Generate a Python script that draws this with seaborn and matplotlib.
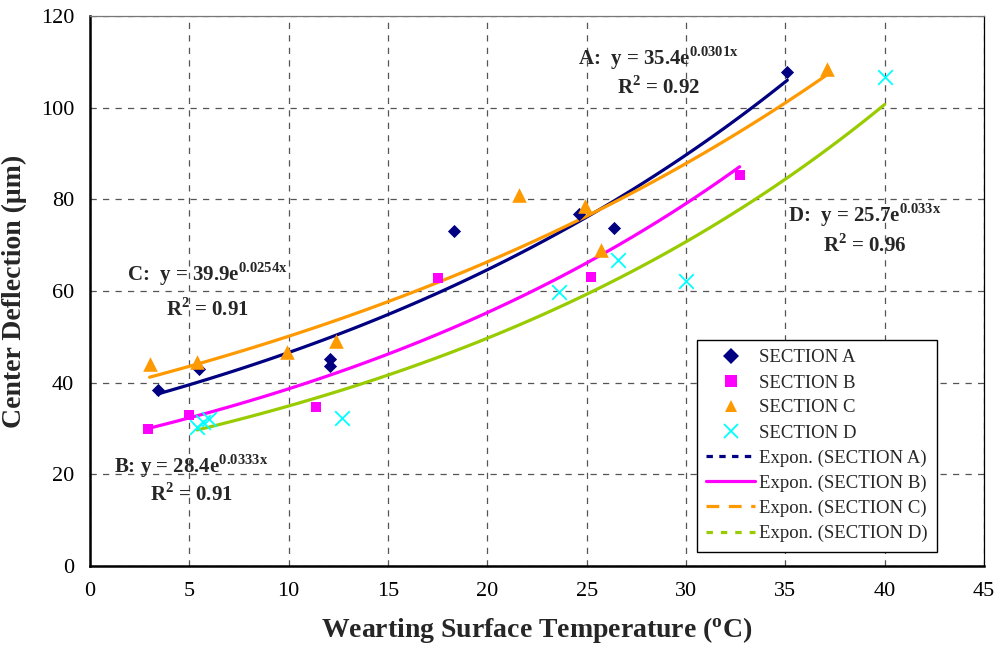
import matplotlib
matplotlib.use("Agg")
import matplotlib.pyplot as plt
from matplotlib.lines import Line2D
import seaborn as sns
import pandas as pd
import numpy as np

sec_a_x = [3.4, 5.5, 12.1, 12.1, 18.3, 24.6, 26.4, 35.1]
sec_a_y = [38.5, 43.0, 45.2, 43.6, 73.1, 76.8, 73.8, 107.8]
sec_b_x = [2.9, 5.0, 11.4, 17.5, 25.2, 32.7]
sec_b_y = [29.9, 33.0, 34.7, 62.8, 63.0, 85.3]
sec_c_x = [3.0, 5.4, 9.9, 12.4, 21.6, 24.9, 25.7, 37.1]
sec_c_y = [44.0, 44.5, 46.7, 49.2, 81.0, 78.6, 69.0, 108.5]
sec_d_x = [5.4, 5.7, 6.0, 12.7, 23.6, 26.6, 30.0, 40.0]
sec_d_y = [30.4, 31.4, 32.0, 32.3, 59.8, 66.8, 62.2, 106.7]

sections = ['SECTION A', 'SECTION B', 'SECTION C', 'SECTION D']
point_colors = {'SECTION A': '#000080', 'SECTION B': '#FF00FF',
                'SECTION C': '#FF9900', 'SECTION D': '#00FFFF'}
line_colors = {'SECTION A': '#000080', 'SECTION B': '#FF00FF',
               'SECTION C': '#FF9900', 'SECTION D': '#99CC00'}
markers = {'SECTION A': 'D', 'SECTION B': 's', 'SECTION C': '^', 'SECTION D': 'x'}
sizes = {'SECTION A': 45, 'SECTION B': 45, 'SECTION C': 110, 'SECTION D': 110}
legend_dashes = {'SECTION A': (2, 2), 'SECTION B': (None, None),
                 'SECTION C': (4, 3), 'SECTION D': (2, 2.5)}

equations = [
    ('A:  y = 35.4e', '0.0301x', '0.92', 28.6, 110.8, 104.3),
    ('B: y = 28.4e', '0.0333x', '0.91', 5.1, 21.8, 15.5),
    ('C:  y = 39.9e', '0.0254x', '0.91', 5.9, 63.7, 55.9),
    ('D:  y = 25.7e', '0.033x', '0.96', 39.0, 76.6, 70.0),
]

xs = [sec_a_x, sec_b_x, sec_c_x, sec_d_x]
ys = [sec_a_y, sec_b_y, sec_c_y, sec_d_y]
df = pd.concat([pd.DataFrame({'temp': x, 'defl': y, 'section': s})
                for s, x, y in zip(sections, xs, ys)], ignore_index=True)

sns.set_theme(style="white")
plt.rcParams['font.family'] = ['Liberation Serif', 'DejaVu Serif']
plt.rcParams['mathtext.fontset'] = 'custom'
plt.rcParams['mathtext.rm'] = 'Liberation Serif'
plt.rcParams['mathtext.bf'] = 'Liberation Serif:bold'

fig = plt.figure(figsize=(9.97, 6.52), dpi=100)
ax = fig.add_axes([90 / 997, 1 - 566 / 652, 894 / 997, 550 / 652])

# exponential trend lines, fitted like Excel does (least squares on ln y)
for s, x, y in zip(sections, xs, ys):
    b, ln_a = np.polyfit(x, np.log(y), 1)
    gx = np.linspace(min(x), max(x), 100)
    fit = pd.DataFrame({'temp': gx, 'defl': np.exp(ln_a) * np.exp(b * gx)})
    sns.lineplot(data=fit, x='temp', y='defl', ax=ax, color=line_colors[s],
                 linewidth=2.3, zorder=3)

for s in sections:
    sub = df[df.section == s]
    kw = dict(linewidth=1.3) if markers[s] == 'x' else dict(linewidth=0)
    sns.scatterplot(data=sub, x='temp', y='defl', ax=ax, marker=markers[s],
                    color=point_colors[s], s=sizes[s], zorder=4, **kw)

ax.set_xlim(0, 45)
ax.set_ylim(0, 120)
ax.set_xticks(range(0, 50, 5))
ax.set_yticks(range(0, 140, 20))
ax.grid(True, color='#555555', linestyle=(0, (5, 5)), linewidth=0.9)
ax.set_axisbelow(True)
for side in ['left', 'bottom']:
    ax.spines[side].set_color('black')
    ax.spines[side].set_linewidth(1.8)
ax.spines['right'].set_color('black')
ax.spines['right'].set_linewidth(0.9)
ax.spines['top'].set_color('#777777')
ax.spines['top'].set_linewidth(0.9)
ax.tick_params(axis='both', direction='inout', length=7, width=1,
               labelsize=16, colors='black', pad=8)
ax.set_xlabel('Wearting Surface Temperature ($\\mathbf{^o}$C)', fontsize=20,
              fontweight='bold', labelpad=10)
ax.set_ylabel('Center Deflection (\u03bcm)', fontsize=20, fontweight='bold',
              labelpad=10)

for head, sup, rv, tx, ty1, ty2 in equations:
    ax.text(tx, ty1, head + '$^{\\mathbf{' + sup + '}}$', ha='center',
            va='center', fontsize=15, fontweight='bold')
    ax.text(tx, ty2, 'R$^{\\mathbf{2}}$ = ' + rv, ha='center', va='center',
            fontsize=15, fontweight='bold')

handles = []
labels = []
for s in sections:
    handles.append(Line2D([], [], linestyle='none', marker=markers[s],
                          color=point_colors[s],
                          markersize=8 if markers[s] != 'x' else 10,
                          markeredgewidth=1.3 if markers[s] == 'x' else 0))
    labels.append(s)
for s in sections:
    d = legend_dashes[s]
    h = Line2D([], [], color=line_colors[s], linewidth=2.3)
    if d[0] is not None:
        h.set_dashes(d)
    handles.append(h)
    labels.append('Expon. ({})'.format(s))
leg = ax.legend(handles, labels, loc='upper left',
                bbox_to_anchor=((697 - 90) / 894, (566 - 340) / 550),
                borderaxespad=0, fontsize=13.5, frameon=True, fancybox=False,
                framealpha=1, edgecolor='black', handlelength=2.6,
                borderpad=0.5, labelspacing=0.42, handletextpad=0.2)
leg.get_frame().set_linewidth(1)

fig.savefig('out.png', dpi=100)
